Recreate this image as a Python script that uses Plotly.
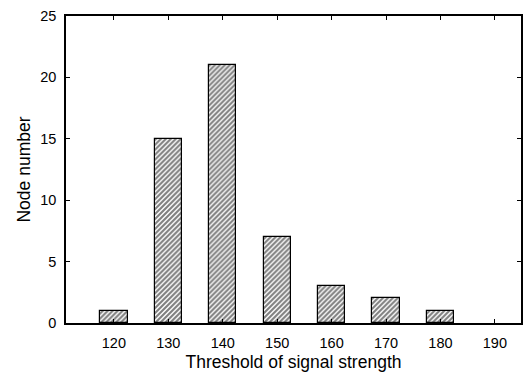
import plotly.graph_objects as go

thresholds = [120, 130, 140, 150, 160, 170, 180, 190]
node_counts = [1, 15, 21, 7, 3, 2, 1, 0]
y_ticks = [0, 5, 10, 15, 20, 25]

fig = go.Figure()
fig.add_trace(go.Bar(
    x=thresholds, y=node_counts, width=5,
    marker=dict(color="white",
                line=dict(color="black", width=[1.2 if v > 0 else 0 for v in node_counts]),
                pattern=dict(shape="/", fgcolor="black", bgcolor="white", size=3.5, solidity=0.6)),
))

tick_font = dict(family="Liberation Sans, Arial, sans-serif", size=14.5, color="black")
title_font = dict(family="Liberation Sans, Arial, sans-serif", size=17.5, color="black")
fig.update_layout(
    width=526, height=379,
    margin=dict(l=66, r=3, t=16, b=56),
    plot_bgcolor="white", paper_bgcolor="white",
    font=tick_font, showlegend=False, bargap=0,
)
fig.update_xaxes(
    range=[111.2, 194.8], tickvals=thresholds, ticktext=[str(t) for t in thresholds],
    ticks="inside", ticklen=4, tickwidth=1, tickcolor="black", tickfont=tick_font,
    ticklabelstandoff=6,
    showline=True, linecolor="black", linewidth=1.5, mirror="ticks",
    showgrid=False, zeroline=False,
    title=dict(text="Threshold of signal strength", font=title_font, standoff=6),
)
fig.update_yaxes(
    range=[0, 25], tickvals=y_ticks,
    ticks="inside", ticklen=4, tickwidth=1, tickcolor="black", tickfont=tick_font,
    ticklabelstandoff=5,
    showline=True, linecolor="black", linewidth=1.5, mirror="ticks",
    showgrid=False, zeroline=False,
    title=dict(text="Node number", font=title_font, standoff=5),
)
fig.write_html("out.html")
